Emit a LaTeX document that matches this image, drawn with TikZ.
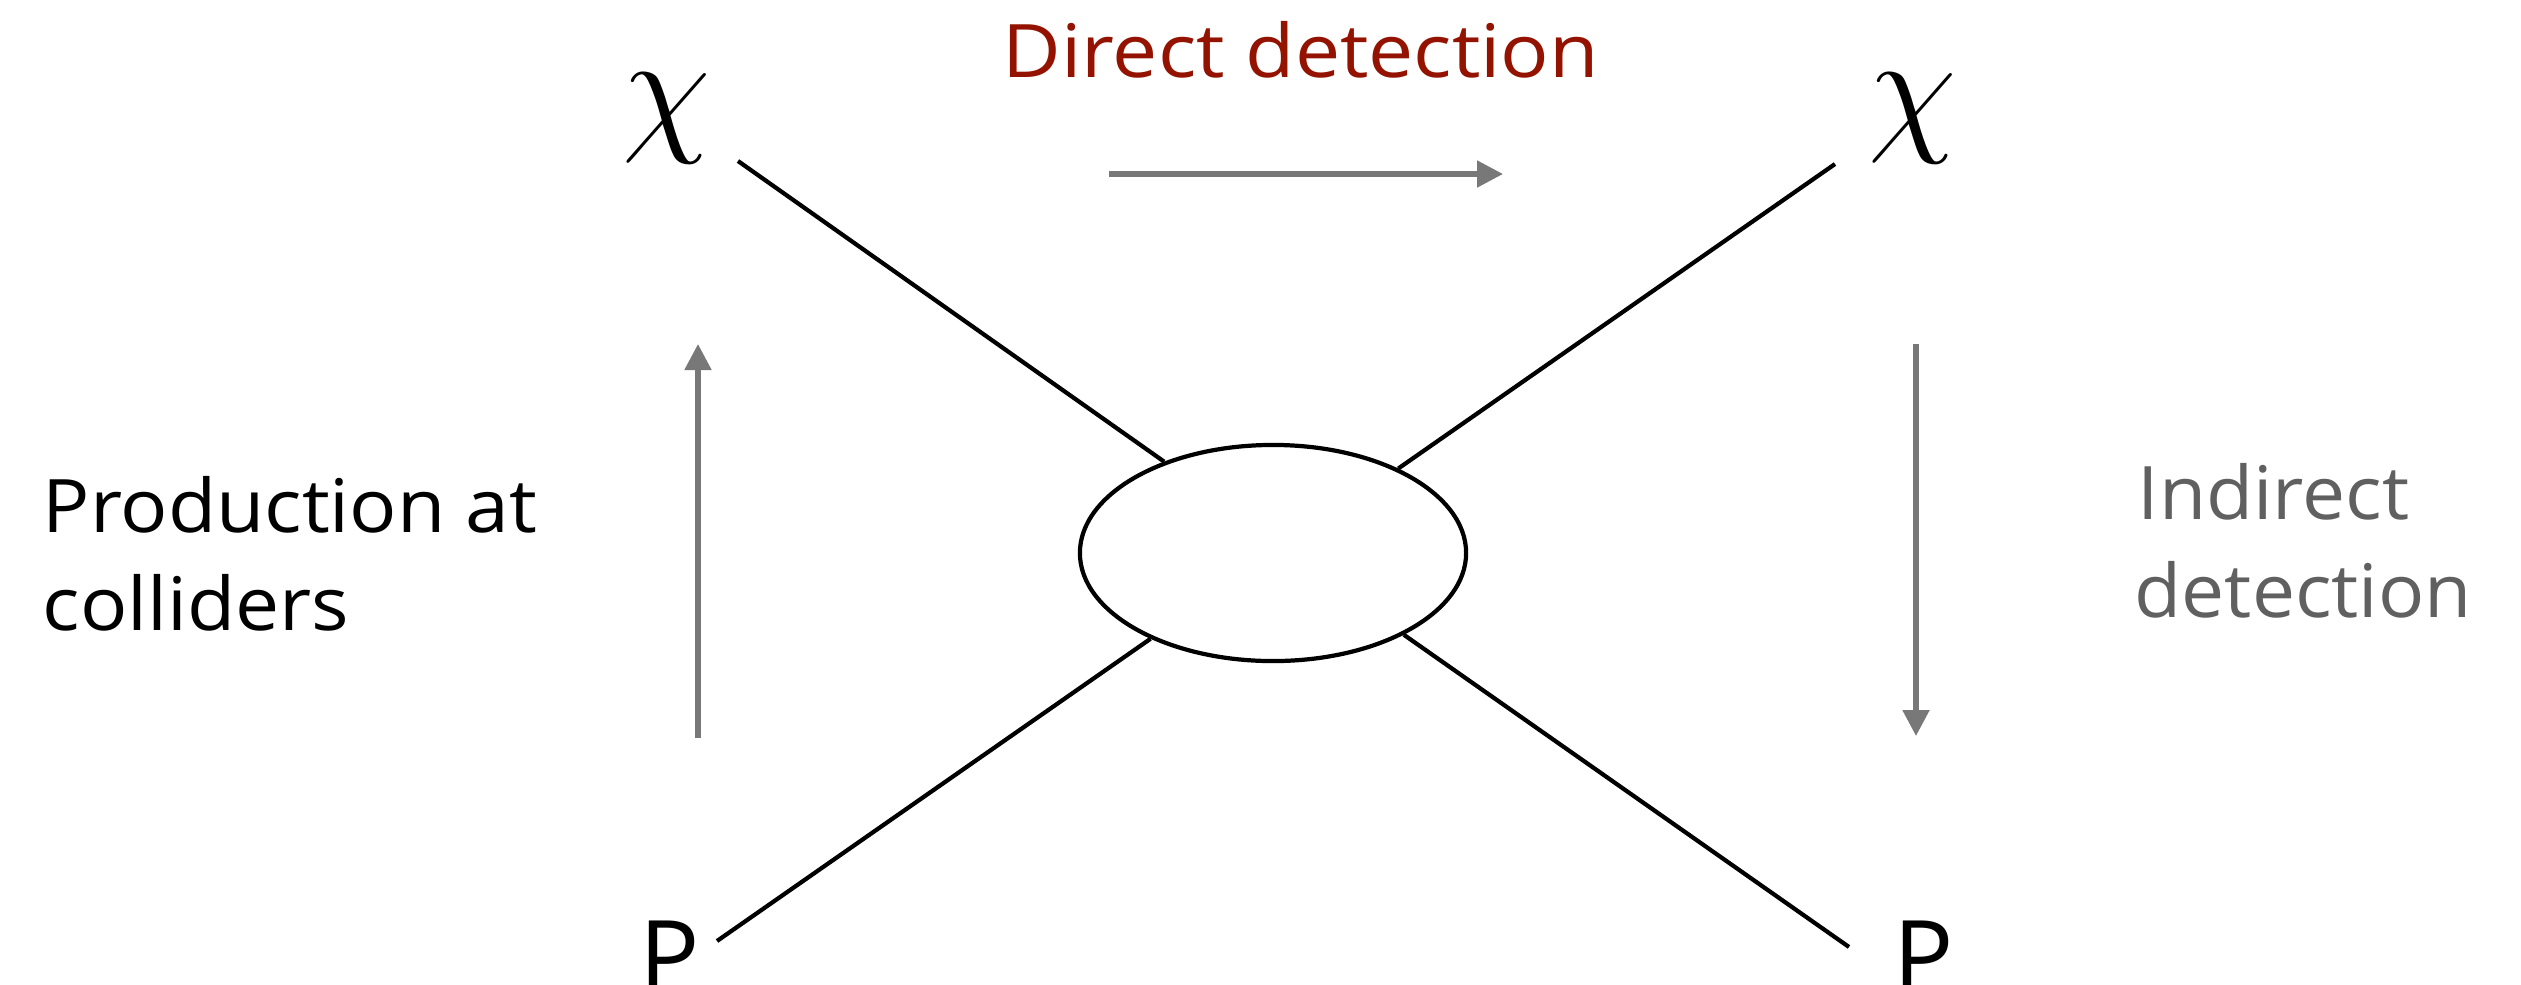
\RequirePackage{fix-cm}
\documentclass[tikz,border=0pt]{standalone}
\usepackage{fontspec}
\setmainfont{Open Sans}
\newfontfamily\ddfont{Open Sans}[FakeStretch=1.09]
\newfontfamily\prodfont{Open Sans}[FakeStretch=1.065]
\newfontfamily\indfont{Open Sans}[FakeStretch=1.04]
\usetikzlibrary{arrows.meta,shapes.geometric}
\definecolor{ddred}{HTML}{931300}
\definecolor{arrgray}{HTML}{787878}
\definecolor{txtgray}{HTML}{606060}
\tikzset{
  leg/.style={line width=1.2pt, draw=black},
  flowarrow/.style={line width=1.45pt, draw=arrgray, -{Triangle[length=0.26cm,width=0.26cm]}},
  chilabel/.style={inner sep=0pt, font=\fontsize{41}{48}\selectfont},
  plabel/.style={inner sep=0pt, anchor=base, font=\fontsize{28.5}{32}\selectfont},
  caption/.style={inner sep=0pt, anchor=base west}
}
\begin{document}
\begin{tikzpicture}[x=0.01cm,y=-0.01cm]
\useasboundingbox (0,0) rectangle (2521,984);
% blob
\node[draw, line width=1.2pt, ellipse, minimum width=3.86cm, minimum height=2.16cm, inner sep=0pt] (blob) at (1273,553) {};
% labels
\node[chilabel] (chiL) at (667,118) {$\chi$};
\node[chilabel] (chiR) at (1913,118) {$\chi$};
\node[plabel] (pL) at (670,992) {P};
\node[plabel] (pR) at (1924,992) {P};
\node[caption, text=ddred, font=\ddfont\fontsize{21}{26}\selectfont] (dd) at (1002,77) {Direct detection};
\node[caption, text=black, font=\prodfont\fontsize{21}{26}\selectfont] (prod1) at (42,532) {Production at};
\node[caption, text=black, font=\prodfont\fontsize{21}{26}\selectfont] (prod2) at (42,630) {colliders};
\node[caption, text=txtgray, font=\indfont\fontsize{21}{26}\selectfont] (ind1) at (2137,519) {Indirect};
\node[caption, text=txtgray, font=\indfont\fontsize{21}{26}\selectfont] (ind2) at (2134,617) {detection};
% leg ends
\coordinate (a1) at (738,161);
\coordinate (a2) at (1835,164);
\coordinate (a3) at (717,941);
\coordinate (a4) at (1849,947);
\draw[leg] (a1) -- (blob.140.6);
\draw[leg] (a2) -- (blob.34.1);
\draw[leg] (a3) -- (blob.215.3);
\draw[leg] (a4) -- (blob.328.7);
% process arrows
\coordinate (h1) at (1109,174);
\coordinate (h2) at (1503,174);
\coordinate (v1) at (698,738);
\coordinate (v2) at (698,344);
\coordinate (w1) at (1916,344);
\coordinate (w2) at (1916,736);
\draw[flowarrow] (h1) -- (h2);
\draw[flowarrow] (v1) -- (v2);
\draw[flowarrow] (w1) -- (w2);
\end{tikzpicture}
\end{document}
